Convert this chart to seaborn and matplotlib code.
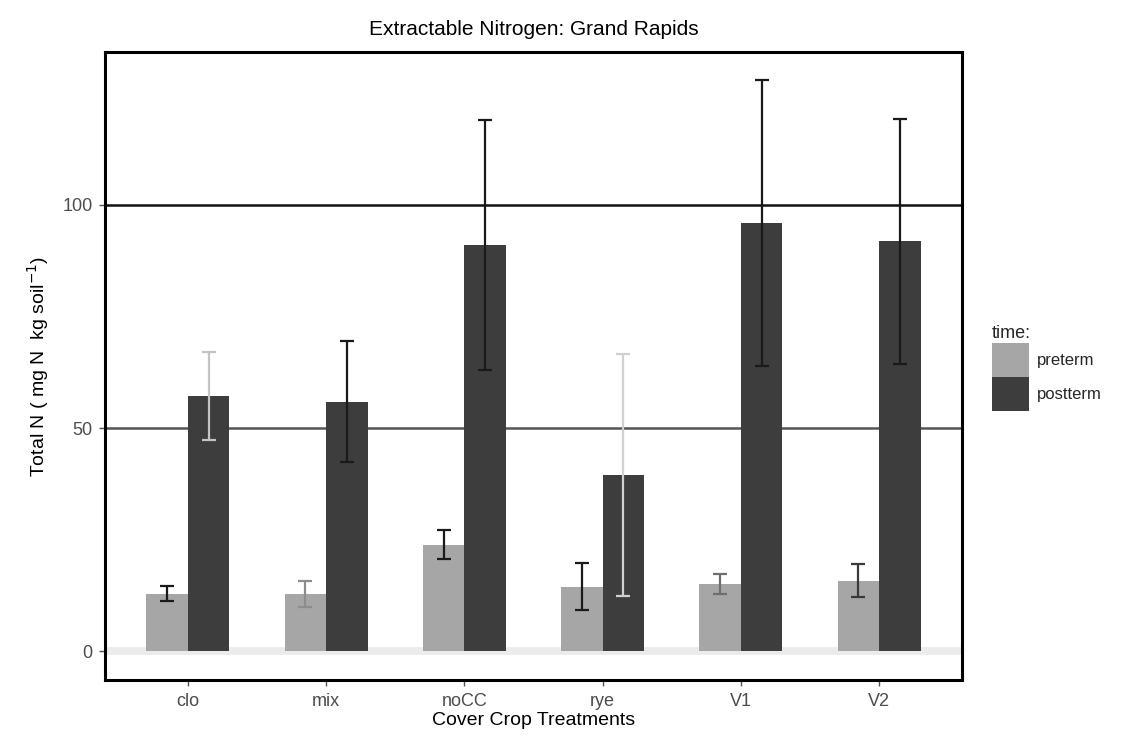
import matplotlib
matplotlib.use("Agg")
import matplotlib.pyplot as plt
import seaborn as sns
import pandas as pd
from matplotlib.patches import Patch

treatments = ["clo", "mix", "noCC", "rye", "V1", "V2"]
times = ["preterm", "postterm"]
pre_mean = [12.9, 12.9, 23.9, 14.5, 15.1, 15.8]
pre_err = [1.7, 2.9, 3.3, 5.2, 2.2, 3.7]
post_mean = [57.2, 55.9, 91.0, 39.5, 96.0, 91.8]
post_err = [9.8, 13.5, 28.0, 27.0, 32.0, 27.5]

pre_color = "#a6a6a6"
post_color = "#3d3d3d"
pre_err_colors = ["#1a1a1a", "#8c8c8c", "#1a1a1a", "#1a1a1a", "#6e6e6e", "#3a3a3a"]
post_err_colors = ["#c4c4c4", "#1a1a1a", "#1a1a1a", "#d0d0d0", "#1a1a1a", "#1a1a1a"]

df = pd.DataFrame({
    "treatment": treatments * 2,
    "time": [times[0]] * 6 + [times[1]] * 6,
    "value": pre_mean + post_mean,
    "err": pre_err + post_err,
})

sns.set_theme(style="white")
plt.rcParams["font.family"] = ["Liberation Sans", "DejaVu Sans"]

fig = plt.figure(figsize=(11.21, 7.42), dpi=100)
ax = fig.add_axes([105/1121, 1-680/742, (962-105)/1121, (680-52)/742])

# gridlines
ax.axhline(0, color="#ebebeb", lw=5.5, zorder=0)
ax.axhline(50, color="#555555", lw=1.8, zorder=0)
ax.axhline(100, color="#111111", lw=1.8, zorder=0)

sns.barplot(data=df, x="treatment", y="value", hue="time", order=treatments,
            hue_order=times, palette=[pre_color, post_color], width=0.6,
            gap=0, errorbar=None, saturation=1, ax=ax, legend=False, zorder=2,
            linewidth=0, edgecolor="none")

# error bars
containers = ax.containers
for ci, (means, errs, cols) in enumerate([(pre_mean, pre_err, pre_err_colors),
                                          (post_mean, post_err, post_err_colors)]):
    for bar, m, e, c in zip(containers[ci], means, errs, cols):
        xc = bar.get_x() + bar.get_width() / 2
        ax.errorbar(xc, m, yerr=e, fmt="none", ecolor=c, elinewidth=1.6,
                    capsize=5, capthick=1.6, zorder=3)

ax.set_xlim(-0.6, 5.6)
ax.set_ylim(-6.4, 134.2)
ax.set_yticks([0, 50, 100])
ax.set_yticklabels(["0", "50", "100"])
ax.tick_params(axis="both", which="both", length=4, width=1, color="#555555",
               labelsize=13, labelcolor="#4d4d4d", pad=5, left=True, bottom=True)
for s in ax.spines.values():
    s.set_color("black")
    s.set_linewidth(2.2)

ax.set_xlabel("Cover Crop Treatments", fontsize=14, color="black", labelpad=2)
ax.set_ylabel(r"Total N ( mg N  kg soil$^{-1}$)", fontsize=14, color="black", labelpad=8)
ax.set_title("Extractable Nitrogen: Grand Rapids", fontsize=15, color="black", pad=12)

# legend
handles = [Patch(facecolor=pre_color, edgecolor="none"), Patch(facecolor=post_color, edgecolor="none")]
leg = fig.legend(handles, times, title="time:", loc="center left",
                 bbox_to_anchor=(992/1121, 1-368/742), frameon=False,
                 fontsize=12, title_fontsize=13, handlelength=2.2, handleheight=2.7,
                 handletextpad=0.5, labelspacing=0.05, borderaxespad=0, borderpad=0)
leg._legend_box.align = "left"

fig.savefig("out.png", dpi=100, facecolor="white")
